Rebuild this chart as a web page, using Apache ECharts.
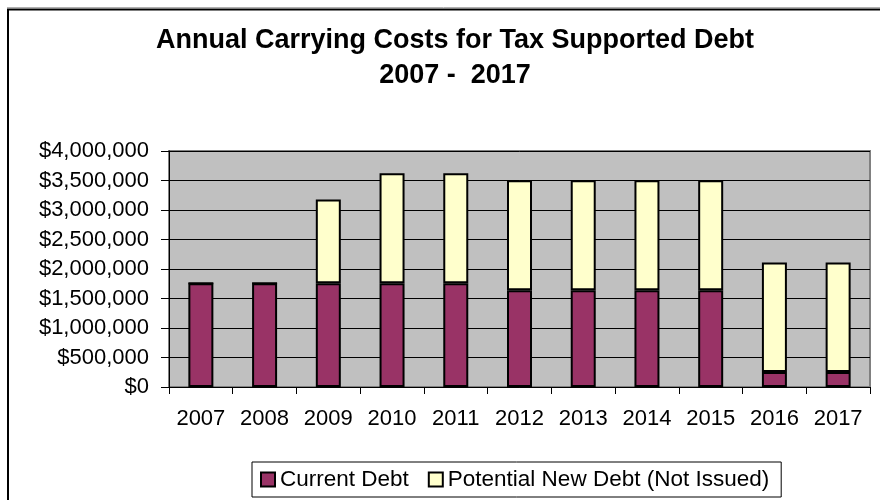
<!DOCTYPE html>
<html lang="en">

<head>
    <meta charset="UTF-8">
    <title>Annual Carrying Costs for Tax Supported Debt</title>
    <script src="https://cdn.jsdelivr.net/npm/echarts@6/dist/echarts.min.js"></script>
</head>
<style>
    * {
        margin: 0;
        padding: 0;
    }

    html,
    body {
        height: 100%;
        width: 100%;
        background: #fff;
    }
</style>

<body>
    <div id="main" style="height: 500px;width: 880px;"></div>
    <script>
        var years = ['2007', '2008', '2009', '2010', '2011', '2012', '2013', '2014', '2015', '2016', '2017'];
        var currentDebt = [1760000, 1760000, 1760000, 1760000, 1760000, 1640000, 1640000, 1640000, 1640000, 255000, 255000];
        var potentialDebt = [0, 0, 1420000, 1865000, 1865000, 1865000, 1865000, 1865000, 1865000, 1855000, 1855000];
        var seriesNames = ['Current Debt', 'Potential New Debt (Not Issued)'];

        var font = 'Liberation Sans, Arial, sans-serif';
        var money = function (v) {
            return '$' + v.toLocaleString('en-US');
        }

        var chartDom = document.querySelector('#main');
        var myChart = echarts.init(chartDom);
        var option = {
            animation: false,
            backgroundColor: '#fff',
            title: {
                text: 'Annual Carrying Costs for Tax Supported Debt\n2007 -  2017',
                left: 450,
                top: 18,
                textAlign: 'center',
                textStyle: {
                    fontFamily: font,
                    fontSize: 27,
                    fontWeight: 'bold',
                    color: '#000',
                    lineHeight: 35
                }
            },
            graphic: [
                {
                    type: 'line',
                    shape: { x1: 7, y1: 7.5, x2: 880, y2: 7.5 },
                    style: { stroke: '#b0b0b0', lineWidth: 1 }
                },
                {
                    type: 'rect',
                    shape: { x: 8, y: 9.5, width: 900, height: 520 },
                    style: { fill: 'none', stroke: '#000', lineWidth: 2 }
                }
            ],
            legend: {
                data: seriesNames,
                left: 252,
                top: 462,
                itemWidth: 14,
                itemHeight: 14,
                itemGap: 19,
                icon: 'rect',
                padding: [6, 12, 6, 8],
                borderColor: '#000',
                borderWidth: 1,
                backgroundColor: '#fff',
                itemStyle: { borderColor: '#000', borderWidth: 2 },
                textStyle: { fontFamily: font, fontSize: 22.5, color: '#000' }
            },
            grid: {
                left: 169,
                right: 10,
                top: 151,
                bottom: 113,
                show: true,
                backgroundColor: '#c0c0c0',
                borderColor: '#808080',
                borderWidth: 2
            },
            xAxis: {
                type: 'category',
                data: years,
                axisLine: { lineStyle: { color: '#000', width: 1 } },
                axisTick: { show: true, alignWithLabel: false, length: 7, lineStyle: { color: '#000' } },
                axisLabel: { margin: 21, fontFamily: font, fontSize: 22, color: '#000' }
            },
            yAxis: {
                type: 'value',
                min: 0,
                max: 4000000,
                interval: 500000,
                axisLine: { show: true, lineStyle: { color: '#000', width: 1 } },
                axisTick: { show: true, length: 8, lineStyle: { color: '#000' } },
                splitLine: { show: true, lineStyle: { color: '#000', width: 1 } },
                axisLabel: {
                    margin: 20,
                    fontFamily: font,
                    fontSize: 22,
                    color: '#000',
                    formatter: money
                }
            },
            series: [
                {
                    name: seriesNames[0],
                    type: 'bar',
                    stack: 'debt',
                    barWidth: 25,
                    data: currentDebt,
                    itemStyle: { color: '#993366', borderColor: '#000', borderWidth: 2 }
                },
                {
                    name: seriesNames[1],
                    type: 'bar',
                    stack: 'debt',
                    barWidth: 25,
                    data: potentialDebt,
                    itemStyle: { color: '#ffffcc', borderColor: '#000', borderWidth: 2 }
                }
            ]
        };
        myChart.setOption(option);
    </script>
</body>

</html>
